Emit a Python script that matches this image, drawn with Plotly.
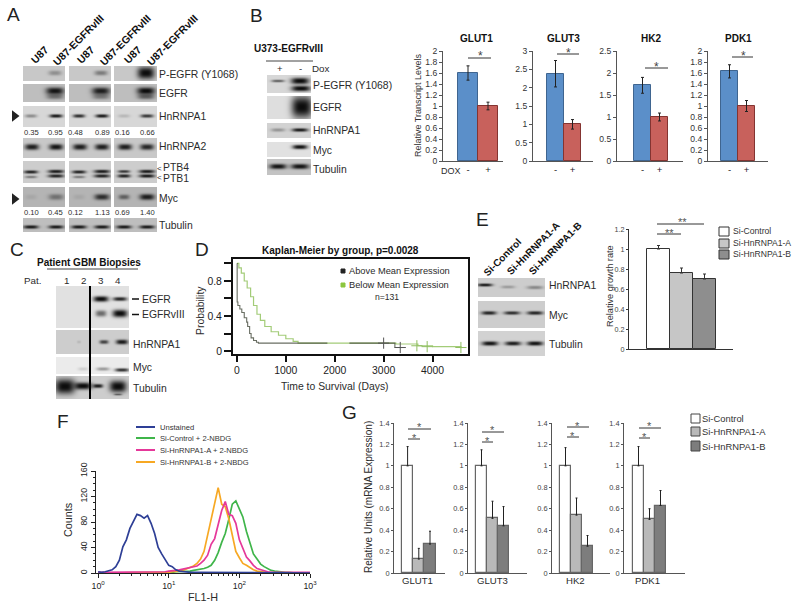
import numpy as np
import plotly.graph_objects as go

# ---------- data ----------
dox_genes = ["GLUT1", "GLUT3", "HK2", "PDK1"]
dox_minus = [1.60, 2.38, 1.72, 1.63]
dox_plus = [1.00, 1.00, 1.00, 1.00]
dox_minus_err = [0.13, 0.36, 0.18, 0.12]
dox_plus_err = [0.07, 0.13, 0.09, 0.10]
dox_ymax = [2, 3, 2.5, 2]
dox_dtick = [0.2, 0.5, 0.5, 0.2]

growth_groups = ["Si-Control", "Si-HnRNPA1-A", "Si-HnRNPA1-B"]
growth_vals = [1.0, 0.76, 0.70]
growth_err = [0.035, 0.05, 0.05]

g_genes = ["GLUT1", "GLUT3", "HK2", "PDK1"]
g_control = [1.0, 1.0, 1.0, 1.0]
g_a = [0.13, 0.51, 0.54, 0.50]
g_b = [0.27, 0.44, 0.25, 0.63]
g_control_err = [0.18, 0.15, 0.17, 0.18]
g_a_err = [0.10, 0.16, 0.16, 0.10]
g_b_err = [0.12, 0.18, 0.10, 0.14]

km_above_t = [0, 5, 20, 60, 100, 150, 200, 220, 260, 290, 340, 400, 440, 1850, None, 2300, 3230, 3400]
km_above_p = [1.0, 0.56, 0.52, 0.48, 0.44, 0.38, 0.33, 0.28, 0.20, 0.15, 0.12, 0.10, 0.09, 0.09, None, 0.09, 0.04, 0.04]
km_below_t = [0, 40, 90, 150, 210, 280, 340, 410, 480, 570, 700, 850, 1000, 1150, 1250, 3250, 3700, 4000, 4300, 4580]
km_below_p = [1.0, 0.95, 0.89, 0.80, 0.72, 0.62, 0.52, 0.42, 0.35, 0.28, 0.22, 0.18, 0.14, 0.11, 0.09, 0.08, 0.06, 0.05, 0.05, 0.04]
km_above_cens_t = [3000, 3340]
km_above_cens_p = [0.09, 0.04]
km_below_cens_t = [3680, 3890, 4580]
km_below_cens_p = [0.06, 0.05, 0.04]

fl_channel = [1.0, 1.12, 1.26, 1.41, 1.58, 1.78, 2, 2.24, 2.51, 2.82, 3.16, 3.55, 3.98, 4.47, 5.01, 5.62, 6.31, 7.08,
              7.94, 8.91, 10, 11.2, 12.6, 14.1, 15.8, 17.8, 20, 22.4, 25.1, 28.2, 31.6, 35.5, 39.8, 44.7, 50.1, 56.2,
              63.1, 70.8, 79.4, 89.1, 100, 112, 126, 141, 158, 178, 200, 224, 251, 282, 316, 355, 398, 447, 501, 562,
              631, 708, 794, 891, 1000]
unstained = [2, 1, 2, 3, 5, 10, 20, 41, 52, 70, 82, 92, 90, 86, 90, 78, 62, 40, 30, 22, 12, 10, 5, 3, 2, 2, 1, 1, 1, 1,
             1, 1, 0, 0, 0, 0, 0, 0, 0, 0, 0, 0, 0, 0, 0, 0, 0, 0, 0, 0, 0, 0, 0, 0, 0, 0, 0, 0, 0, 0, 0]
si_control = [0, 0, 0, 0, 0, 0, 0, 0, 0, 0, 0, 0, 0, 0, 0, 0, 0, 0, 1, 1, 1, 1, 2, 2, 3, 3, 3, 4, 5, 5,
              7, 9, 12, 20, 32, 48, 62, 84, 108, 113, 100, 88, 65, 48, 30, 22, 14, 10, 7, 4, 3, 2, 1, 1, 1, 0, 0, 0, 0, 0, 0]
si_a = [1, 1, 1, 1, 1, 1, 1, 1, 1, 1, 1, 1, 1, 1, 1, 1, 1, 2, 2, 2, 3, 3, 4, 5, 6, 7, 8, 10, 11, 15,
        20, 28, 45, 54, 75, 98, 112, 92, 90, 78, 52, 38, 25, 19, 12, 7, 5, 3, 2, 1, 1, 1, 1, 1, 0, 1, 0, 1, 1, 1, 1]
si_b = [0, 0, 0, 0, 0, 0, 0, 0, 0, 0, 0, 0, 0, 0, 0, 0, 0, 0, 0, 0, 1, 2, 2, 3, 4, 6, 9, 11, 15, 22,
        34, 58, 84, 108, 134, 108, 104, 85, 60, 34, 24, 15, 12, 8, 5, 3, 2, 1, 1, 0, 0, 0, 0, 0, 0, 0, 0, 0, 0, 0, 0]

a_ratio_hnrnpa1 = ["0.35", "0.95", "0.48", "0.89", "0.16", "0.66"]
a_ratio_myc = ["0.10", "0.45", "0.12", "1.13", "0.69", "1.40"]

# blot band intensities (0-1), one per band
a_pegfr = [[0.3], [0.4], [1.0]]
a_egfr = [[0.95, 0.45], [0.9, 0.4], [1.0, 0.55]]
a_hnrnpa1 = [[0.35, 0.9], [0.8, 0.9], [0.15, 0.75]]
a_hnrnpa2 = [[0.9, 0.95], [0.9, 0.9], [0.9, 0.85]]
a_ptb = [[0.85, 0.4, 0.9, 0.85], [0.85, 0.4, 0.9, 0.85], [0.75, 0.85, 0.9, 0.9]]
a_myc = [[0.08, 0.4], [0.08, 0.8], [0.5, 0.9]]
a_tub = [[0.9, 0.9], [0.9, 0.9], [0.9, 0.9]]
b_bands = dict(pegfr=[0.55, 1.0, 1.0], egfr=[1.0], hnrnpa1=[0.3, 0.9], myc=[0.95], tub=[0.95, 0.95])
c_bands = dict(egfr=[1.0, 0.85, 0.55, 1.0], hnrnpa1=[0.1, 0.7, 0.92], myc=[0.12, 0.35, 0.8],
               tub=[1.0, 1.0, 0.9, 1.0, 0.5])
e_bands = dict(hnrnpa1=[0.9, 0.25, 0.35], myc=[0.85, 0.8, 0.85], tub=[0.95, 0.9, 0.95])

W, H = 800, 608
FONT = "Liberation Sans"
TXT = "#2b2b2b"
fig = go.Figure()
layout = dict(template="none", width=W, height=H, margin=dict(l=0, r=0, t=0, b=0, pad=0), paper_bgcolor="white",
              plot_bgcolor="rgba(0,0,0,0)", showlegend=False, font=dict(family=FONT, color=TXT), bargap=0)
layout["xaxis"] = dict(domain=[0, 1], range=[0, W], visible=False, fixedrange=True, automargin=False)
layout["yaxis"] = dict(domain=[0, 1], range=[H, 0], visible=False, fixedrange=True, automargin=False)
annotations, shapes = [], []
axis_n = [1]
STAR_DROP = 3  # the asterisk glyph sits high in its line box


def txt(x, y, s, size=10.4, anchor="left", bold=False, color=TXT, angle=0):
    annotations.append(dict(x=x, y=y, xref="x", yref="y", text=f"<b>{s}</b>" if bold else s, showarrow=False,
                            xanchor=anchor, yanchor="middle", textangle=angle, borderpad=0, borderwidth=0,
                            font=dict(size=size, color=color, family=FONT)))


def hline(x0, x1, y, color="#333", width=1):
    shapes.append(dict(type="line", xref="x", yref="y", x0=x0, x1=x1, y0=y, y1=y, line=dict(color=color, width=width)))


def swatch(x0, x1, y0, y1, fill, line="#333"):
    shapes.append(dict(type="rect", xref="x", yref="y", x0=x0, x1=x1, y0=y0, y1=y1, fillcolor=fill,
                       line=dict(color=line, width=1)))


def blot(x0, x1, y0, y1, bg, geom, vals):
    xs = np.arange(x0, x1) + 0.5
    ys = np.arange(y0, y1) + 0.5
    X, Y = np.meshgrid(xs, ys)
    keep = np.ones_like(X)
    for (cx, cy, wx, wy), d in zip(geom, vals):
        f = np.exp(-np.abs((X - cx) / wx) ** 3 - np.abs((Y - cy) / wy) ** 2.4)
        keep *= 1 - np.clip(d, 0, 1) * f
    z = 12 + (bg - 12) * keep
    fig.add_trace(go.Heatmap(z=np.round(z, 0).tolist(), x0=x0 + 0.5, dx=1, y0=y0 + 0.5, dy=1, xaxis="x", yaxis="y",
                             colorscale=[[0, "#000000"], [1, "#ffffff"]], zmin=0, zmax=255, showscale=False,
                             hoverinfo="skip"))


def new_axes(l, r, t, b, xkw, ykw):
    axis_n[0] += 1
    n = axis_n[0]
    layout[f"xaxis{n}"] = dict(domain=[l / W, r / W], anchor=f"y{n}", fixedrange=True, showgrid=False, zeroline=False,
                               automargin=False, **xkw)
    layout[f"yaxis{n}"] = dict(domain=[1 - b / H, 1 - t / H], anchor=f"x{n}", fixedrange=True, showgrid=False,
                               zeroline=False, automargin=False, **ykw)
    return f"x{n}", f"y{n}"


def bar_range(ax_l, ax_r, bar_l, bw):
    return [-0.5 - (bar_l - ax_l) / bw, -0.5 + (ax_r - bar_l) / bw]


# ---------- A: blots ----------
cols = [(23, 65, 31, 56), (69, 111, 79, 102), (114, 157, 124, 147)]
for i, (x0, x1, l1, l2) in enumerate(cols):
    big = i == 2
    blot(x0, x1, 66, 81, 200, [(l2 - 1, 73, 8.5 if big else 6.5, 6 if big else 2.5)], a_pegfr[i])
    blot(x0, x1, 84, 102, 190, [(l2 - 1, 91, 9, 3.6), (l2 - 1, 96.5, 8.5, 2.8)], a_egfr[i])
    blot(x0, x1, 106, 127, 215, [(l1, 116, 6, 1.8), (l2, 116, 6.5, 1.8)], a_hnrnpa1[i])
    blot(x0, x1, 138, 158, 200, [(l1 + 1, 147, 7, 3), (l2, 147, 7, 3)], a_hnrnpa2[i])
    if i < 2:
        ptb_geom = [(l1, 172, 7, 1.7), (l1, 177, 6, 1.4), (l2, 171.5, 8, 1.8), (l2, 176, 8, 1.8)]
    else:
        ptb_geom = [(l1, 171.5, 6, 1.5), (l1, 176, 6.5, 1.8), (l2, 171.5, 8, 1.8), (l2, 176, 8, 1.8)]
    blot(x0, x1, 161, 183, 205, ptb_geom, a_ptb[i])
    blot(x0, x1, 187, 207, 180, [(l1, 197, 5.5, 2.5), (l2, 197, 7.5, 3)], a_myc[i])
    blot(x0, x1, 218, 232, 190, [(l1, 227, 7.5, 1.8), (l2, 227, 7.5, 1.8)], a_tub[i])

for cx, label in zip([39, 85, 132], ["U87"] * 3):
    txt(cx, 55, label, 10.5, "center", True, "#111", -45)
for cx, label in zip([78, 125, 172], ["U87-EGFRvIII"] * 3):
    txt(cx, 40, label, 10.5, "center", True, "#111", -45)
for y, label in zip([74, 93, 116, 146, 198, 225], ["P-EGFR (Y1068)", "EGFR", "HnRNPA1", "HnRNPA2", "Myc", "Tubulin"]):
    txt(159, y, label)
txt(163, 167, "PTB4")
txt(163, 178, "PTB1")
txt(157, 168, "&lt;", 8)
txt(157, 177, "&lt;", 8)
for cx, a, m in zip([31, 55, 75, 102, 122, 147], a_ratio_hnrnpa1, a_ratio_myc):
    txt(cx, 132, a, 7.6, "center")
    txt(cx, 212, m, 7.6, "center")
fig.add_trace(go.Scatter(x=[14.5, 14.5], y=[116, 199], mode="markers", xaxis="x", yaxis="y", hoverinfo="skip",
                         marker=dict(symbol="triangle-right", size=10, color="#222")))

# ---------- B: blots ----------
blot(267, 311, 75, 93, 215, [(278, 81, 6.5, 1.4), (300, 81, 9, 3.2), (301, 88.5, 9.5, 2.8)], b_bands["pegfr"])
blot(267, 311, 96, 119, 222, [(302, 107, 10.5, 11)], b_bands["egfr"])
blot(267, 311, 123, 138, 210, [(278, 130, 7, 1.8), (300, 130, 8, 1.8)], b_bands["hnrnpa1"])
blot(267, 311, 142, 157, 225, [(300, 147, 7.5, 2.2)], b_bands["myc"])
blot(267, 311, 159, 175, 195, [(278, 166.5, 8.5, 2.6), (300, 166.5, 9, 2.6)], b_bands["tub"])
txt(254, 48, "U373-EGFRvIII", 10, "left", True, "#111")
hline(266, 313, 61, "#444", 1)
txt(280, 68, "+", 9.5, "center")
txt(300, 68, "-", 9.5, "center")
txt(312, 68.5, "Dox", 9.8)
for y, label in zip([85, 107, 130, 150, 169], ["P-EGFR (Y1068)", "EGFR", "HnRNPA1", "Myc", "Tubulin"]):
    txt(313, y, label)

# ---------- C: blots ----------
blot(56, 129, 286, 328, 225, [(101, 299, 7.5, 2.8), (120, 299, 7, 2), (101, 313.5, 5.5, 3.2), (120, 313.5, 7.5, 3.8)],
     c_bands["egfr"])
blot(56, 129, 330, 354, 205, [(79, 342, 2, 1.5), (104, 342, 4.5, 2), (122, 342, 6, 2.4)], c_bands["hnrnpa1"])
blot(56, 129, 357, 374, 235, [(83, 369, 5, 1.8), (103, 369, 6.5, 1.8), (122, 370, 7, 1.8)], c_bands["myc"])
blot(56, 129, 376, 399, 205, [(65, 386.5, 10, 7.5), (83, 386, 9, 3.5), (98, 386, 5, 2), (118, 386.5, 8.5, 5.8),
                              (118, 394.5, 4, 1)], c_bands["tub"])
shapes.append(dict(type="line", xref="x", yref="y", x0=90, x1=90, y0=286, y1=399, line=dict(color="#000", width=2)))
txt(89, 262, "Patient GBM Biopsies", 10, "center", True, "#111")
hline(47, 138, 269, "#444", 1)
txt(24, 280, "Pat.", 9.8)
for cx, s in zip([66, 83, 101, 118], ["1", "2", "3", "4"]):
    txt(cx, 280, s, 9.8, "center")
txt(142, 299, "EGFR")
txt(142, 314, "EGFRvIII")
hline(132, 139, 299, "#111", 1.5)
hline(132, 139, 314.5, "#111", 1.5)
txt(133, 344, "HnRNPA1")
txt(133, 367, "Myc")
txt(133, 388, "Tubulin")

# ---------- E: blots ----------
blot(478, 545, 278, 297, 205, [(485, 285, 7.5, 1.6), (508, 287, 7, 1.6), (535, 287.5, 8, 1.8)], e_bands["hnrnpa1"])
blot(478, 545, 301, 328, 205, [(489, 313, 7.5, 1.9), (512, 313, 8, 1.8), (535, 313, 8, 1.9)], e_bands["myc"])
blot(478, 545, 331, 356, 210, [(490, 343.5, 8, 2.2), (513, 343.5, 8, 2.1), (535, 343.5, 8, 2.2)], e_bands["tub"])
txt(502, 257, "Si-Control", 10, "center", True, "#111", -45)
txt(533, 248, "Si-HnRNPA1-A", 10, "center", True, "#111", -45)
txt(555, 248, "Si-HnRNPA1-B", 10, "center", True, "#111", -45)
for y, s in zip([285, 315, 344], ["HnRNPA1", "Myc", "Tubulin"]):
    txt(549, y, s)

# ---------- panel letters ----------
for x, y, s in [(7, 14, "A"), (250, 15, "B"), (10, 249, "C"), (195, 249, "D"), (476, 219, "E"), (57, 421, "F"),
                (342, 412, "G")]:
    txt(x, y, s, 19, "left", False, "#222")

# ---------- top right: DOX bars ----------
dox_geom = [(443, 503, 458, 20), (533, 593, 547, 17), (617, 683, 634, 17), (708, 768, 721, 17)]
dox_title_x = [476, 563, 651, 738]
dox_br = [(468, 491, 58, 480, 53), (557, 579, 54, 568, 50), (645, 668, 68, 656, 64), (732, 753, 57, 743, 53)]
for i, gene in enumerate(dox_genes):
    l, r, bl, bw = dox_geom[i]
    xa, ya = new_axes(l, r, 51, 161,
                      dict(range=bar_range(l, r, bl, bw), tickvals=[0, 1], ticktext=["-", "+"], ticks="",
                           showline=True, linecolor="#555", linewidth=1, tickfont=dict(size=9.5, color="#222")),
                      dict(range=[0, dox_ymax[i]], dtick=dox_dtick[i], tick0=0, ticks="outside", ticklen=3,
                           tickcolor="#555", showline=True, linecolor="#555", linewidth=1,
                           tickfont=dict(size=8.6, color="#333")))
    fig.add_trace(go.Bar(x=[0, 1], y=[dox_minus[i], dox_plus[i]], width=1, xaxis=xa, yaxis=ya,
                         marker=dict(color=["#5b8fc9", "#c8615c"], line=dict(color=["#3f6590", "#843431"], width=1)),
                         error_y=dict(type="data", array=[dox_minus_err[i], dox_plus_err[i]], color="#222",
                                      thickness=1, width=1.5)))
    txt(dox_title_x[i], 38, gene, 10, "center", True, "#111")
    x0, x1, ly, sx, sy = dox_br[i]
    hline(x0, x1, ly, "#333", 1)
    txt(sx, sy + STAR_DROP, "*", 12, "center", False, "#444")
txt(418, 105, "Relative Transcript Levels", 9, "center", False, "#333", -90)
txt(441, 171, "DOX", 9)

# ---------- D: Kaplan-Meier ----------
xa, ya = new_axes(233, 468, 259, 354,
                  dict(range=[-80, 4725], tickvals=[0, 1000, 2000, 3000, 4000], ticks="outside", ticklen=6, tickwidth=2,
                       tickcolor="#111", showline=True, mirror=True, linecolor="#111", linewidth=2,
                       tickfont=dict(size=10.4, color="#222")),
                  dict(range=[-0.034, 1.051], tickvals=[0, 0.4, 0.8], ticktext=["0", "0.4", "0.8"], ticks="outside",
                       ticklen=7, tickwidth=2, tickcolor="#111", showline=True, mirror=True, linecolor="#111",
                       linewidth=2, tickfont=dict(size=10.4, color="#222"),
                       minor=dict(ticks="outside", ticklen=7, tickwidth=2, tickcolor="#111", tickvals=[0.2, 0.6, 1.0])))
fig.add_trace(go.Scatter(x=km_below_t, y=km_below_p, mode="lines", xaxis=xa, yaxis=ya, hoverinfo="skip",
                         line=dict(color="#a3cc78", width=1.2, shape="hv")))
fig.add_trace(go.Scatter(x=km_above_t, y=km_above_p, mode="lines", xaxis=xa, yaxis=ya, hoverinfo="skip", opacity=0.8,
                         line=dict(color="#444a3c", width=1.1, shape="hv")))
fig.add_trace(go.Scatter(x=km_below_cens_t, y=km_below_cens_p, mode="markers", xaxis=xa, yaxis=ya, hoverinfo="skip",
                         marker=dict(symbol="cross-thin-open", size=8, color="#8fbe60", line=dict(color="#8fbe60", width=1))))
fig.add_trace(go.Scatter(x=km_above_cens_t, y=km_above_cens_p, mode="markers", xaxis=xa, yaxis=ya, hoverinfo="skip",
                         marker=dict(symbol="cross-thin-open", size=8, color="#555", line=dict(color="#555", width=1))))
txt(340, 250, "Kaplan-Meier by group, p=0.0028", 10, "center", True, "#111")
txt(335, 386, "Time to Survival (Days)", 10.4, "center")
txt(200, 311, "Probability", 10.4, "center", False, TXT, -90)
swatch(341, 345, 269, 273, "#222", "#222")
swatch(341, 345, 283, 287, "#8cc63f", "#8cc63f")
txt(349, 271, "Above Mean Expression", 9.3)
txt(349, 285, "Below Mean Expression", 9.3)
txt(387, 297, "n=131", 8.6, "center")

# ---------- E: growth bars ----------
xa, ya = new_axes(629, 733, 229, 349,
                  dict(range=bar_range(629, 733, 647, 23), showticklabels=False, ticks="", showline=True,
                       linecolor="#333", linewidth=1),
                  dict(range=[0, 1.2], dtick=0.2, tick0=0, ticks="outside", ticklen=2, tickcolor="#333", showline=True,
                       linecolor="#333", linewidth=1, tickfont=dict(size=7.2, color="#444")))
fig.add_trace(go.Bar(x=[0, 1, 2], y=growth_vals, width=1, xaxis=xa, yaxis=ya, hovertext=growth_groups,
                     marker=dict(color=["#ffffff", "#c6c6c6", "#8e8e8e"], line=dict(color="#333", width=1)),
                     error_y=dict(type="data", array=growth_err, arrayminus=[0, 0, 0], symmetric=False, color="#333",
                                  thickness=1, width=1.5)))
hline(657, 704, 224, "#333", 1)
txt(682, 219 + STAR_DROP, "**", 11, "center", False, "#555")
hline(657, 681, 234, "#333", 1)
txt(669, 230 + STAR_DROP, "**", 11, "center", False, "#555")
txt(610, 286, "Relative growth rate", 9.2, "center", False, "#333", -90)
for (y0, y1, fill), label in zip([(227, 236, "#ffffff"), (239, 248, "#c6c6c6"), (250, 259, "#8e8e8e")], growth_groups):
    swatch(719, 729, y0, y1, fill)
    txt(733, (y0 + y1) / 2 - 1, label, 8.6, "left", False, "#333")

# ---------- F: flow histogram ----------
xa, ya = new_axes(96, 310, 471, 573,
                  dict(type="log", range=[-0.03, 3], tickvals=[1, 10, 100, 1000],
                       ticktext=["10<sup>0</sup>", "10<sup>1</sup>", "10<sup>2</sup>", "10<sup>3</sup>"],
                       ticks="outside", ticklen=4, tickcolor="#222", showline=True, linecolor="#222", linewidth=1.2,
                       tickfont=dict(size=8.8, color="#222"),
                       minor=dict(ticks="outside", ticklen=2, tickcolor="#222",
                                  tickvals=[2, 3, 4, 5, 6, 7, 8, 9, 20, 30, 40, 50, 60, 70, 80, 90, 200, 300, 400, 500,
                                            600, 700, 800, 900])),
                  dict(range=[0, 160], tickvals=[0, 40, 80, 120, 160], ticks="outside", ticklen=4, tickcolor="#222",
                       tickangle=-90, showline=True, linecolor="#222", linewidth=1.2,
                       tickfont=dict(size=8.8, color="#222"),
                       minor=dict(ticks="outside", ticklen=2, tickcolor="#222", dtick=10)))
flow_series = [("Si-Control + 2-NBDG", si_control, "#3fb54a", 438), ("Si-HnRNPA1-B + 2-NBDG", si_b, "#f7a823", 462),
               ("Si-HnRNPA1-A + 2-NBDG", si_a, "#e5389a", 450), ("Unstained", unstained, "#2e3f96", 427)]
for name, vals, color, ly in flow_series:
    fig.add_trace(go.Scatter(x=fl_channel, y=vals, mode="lines", xaxis=xa, yaxis=ya, name=name, cliponaxis=False,
                             hoverinfo="skip", line=dict(color=color, width=1.7)))
    hline(136, 155, ly, color, 2)
    txt(160, ly, name, 7.6, "left", False, "#333")
txt(68, 520, "Counts", 10.8, "center", False, TXT, -90)
txt(203, 597, "FL1-H", 10.8, "center")

# ---------- G: bars ----------
g_geom = [(394, 445, 402, 11.2), (468, 527, 476, 11), (552, 610, 560, 11), (624, 685, 633, 11)]
g_label_x = [417, 492, 575, 647]
g_br = [(408, 420, 439, 414, 435, 408, 431, 429, 419, 424),
        (482, 493, 442, 487, 438, 482, 504, 432, 492, 427),
        (567, 579, 437, 572, 433, 567, 589, 427, 577, 423),
        (639, 650, 438, 644, 434, 639, 661, 428, 649, 423)]
for i, gene in enumerate(g_genes):
    l, r, bl, bw = g_geom[i]
    xa, ya = new_axes(l, r, 423, 573,
                      dict(range=bar_range(l, r, bl, bw), showticklabels=False, ticks="", showline=True,
                           linecolor="#555", linewidth=1),
                      dict(range=[0, 1.4], dtick=0.2, tick0=0, ticks="outside", ticklen=2, tickcolor="#555",
                           showline=True, linecolor="#555", linewidth=1, tickfont=dict(size=7.4, color="#444")))
    fig.add_trace(go.Bar(x=[0, 1, 2], y=[g_control[i], g_a[i], g_b[i]], width=1, xaxis=xa, yaxis=ya,
                         marker=dict(color=["#ffffff", "#b9b9b9", "#7d7d7d"], line=dict(color="#666", width=1.2)),
                         error_y=dict(type="data", array=[g_control_err[i], g_a_err[i], g_b_err[i]],
                                      arrayminus=[0, 0, 0], symmetric=False, color="#222", thickness=1, width=1)))
    txt(g_label_x[i], 580, gene, 9.6, "center")
    a0, a1, ay, asx, asy, b0, b1, by, bsx, bsy = g_br[i]
    hline(a0, a1, ay, "#333", 1)
    hline(b0, b1, by, "#333", 1)
    txt(asx, asy + STAR_DROP, "*", 11, "center", False, "#555")
    txt(bsx, bsy + STAR_DROP, "*", 11, "center", False, "#555")
txt(368, 497, "Relative Units (mRNA Expression)", 10, "center", False, TXT, -90)
for (y0, y1, fill), label in zip([(414, 423, "#ffffff"), (427, 436, "#b9b9b9"), (441, 451, "#7d7d7d")], growth_groups):
    swatch(691, 700, y0, y1, fill, "#444")
    txt(702, (y0 + y1) / 2, label, 9.4, "left", False, "#333")

layout["annotations"] = annotations
layout["shapes"] = shapes
fig.update_layout(**layout)
fig.write_html("out.html", config={"displayModeBar": False}, post_script="document.body.style.margin='0';")
